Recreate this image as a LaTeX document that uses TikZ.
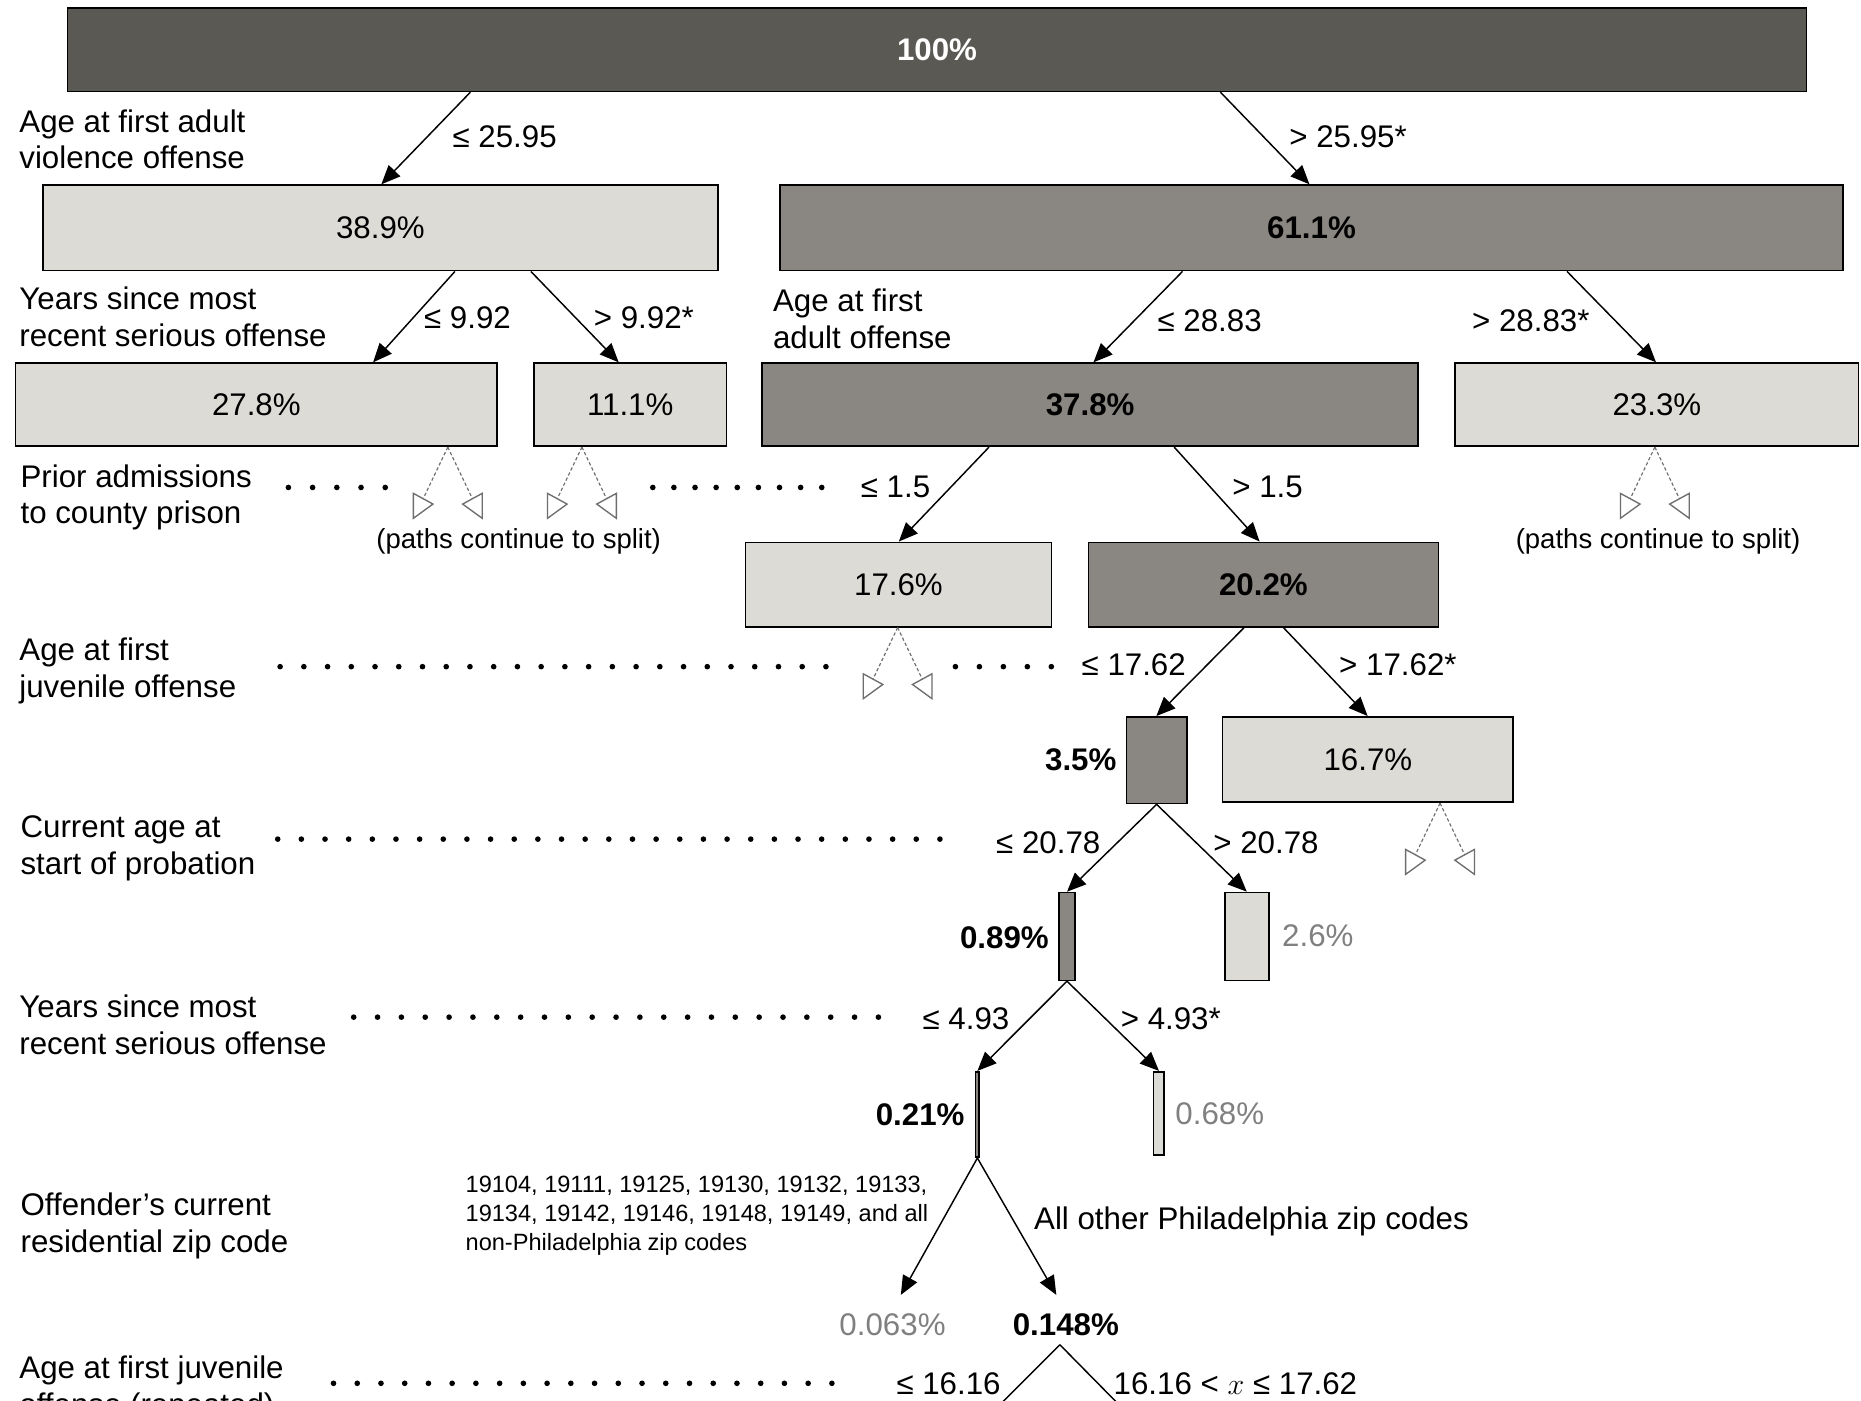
\documentclass[tikz,border=0pt]{standalone}
\usepackage{fontspec}
\setmainfont{Liberation Sans}
\usetikzlibrary{arrows.meta,calc,fit}
\definecolor{darkbox}{RGB}{90,89,84}
\definecolor{midbox}{RGB}{138,135,130}
\definecolor{lightbox}{RGB}{221,219,214}
\definecolor{graytext}{RGB}{128,128,128}
\definecolor{splitgray}{RGB}{110,110,110}
\newcommand\splitpairR[1]{%
  \draw[splitline] (#1) -- ($(#1)+(-20.75,43.5)$);
  \draw[splittri] ($(#1)+(-29,39)$) -- ($(#1)+(-29,60)$) -- ($(#1)+(-12.5,48)$) -- cycle;
  \draw[splitline] (#1) -- ($(#1)+(20.75,43.5)$);
  \draw[splittri] ($(#1)+(29,39)$) -- ($(#1)+(29,60)$) -- ($(#1)+(12.5,48)$) -- cycle;
}
\newcommand\dotrowR[4]{%
  \draw[dotline, dash pattern=on 0pt off #4] (#2,#1) -- ($(#3,#1)+(2,0)$);
}
\begin{document}
\begin{tikzpicture}[x=0.02cm,y=-0.02cm,
  fbase/.style={font=\fontsize{15}{17.6}\selectfont},
  fbold/.style={font=\fontsize{15}{17.6}\selectfont\bfseries},
  box/.style={draw=black, line width=0.8pt, inner sep=0pt},
  lbox/.style={box, fill=lightbox},
  mbox/.style={box, fill=midbox},
  dbox/.style={box, fill=darkbox},
  ltxt/.style={fbase, inner sep=0pt},
  mtxt/.style={fbold, inner sep=0pt},
  dtxt/.style={fbold, text=white, inner sep=0pt},
  lab/.style={fbase, align=left, anchor=west, inner sep=0pt},
  elab/.style={fbase, anchor=west, inner sep=0pt},
  side/.style={fbase, inner sep=0pt},
  arr/.style={line width=0.7pt, -{Triangle[length=0.32cm,width=0.27cm]}},
  plain/.style={line width=0.7pt},
  splitline/.style={draw=splitgray, line width=0.55pt, dash pattern=on 1.6pt off 1.1pt},
  splittri/.style={draw=splitgray, line width=0.65pt, line join=miter},
  dotline/.style={line width=2.7pt, line cap=round},
  note/.style={font=\fontsize{13.2}{15}\selectfont, inner sep=0pt}
]
\useasboundingbox (0,0) rectangle (1568,1180);
\fill[white] (0,0) rectangle (1568,1180);

% boxes
\node[dbox, fit={(57,7) (1522,77)}, label={[dtxt]center:100\%}] (top) {};
\node[lbox, fit={(36,156) (605,228)}, label={[ltxt]center:38.9\%}] (b389) {};
\node[mbox, fit={(657,156) (1553,228)}, label={[mtxt]center:61.1\%}] (b611) {};
\node[lbox, fit={(13,306) (419,376)}, label={[ltxt]center:27.8\%}] (b278) {};
\node[lbox, fit={(450,306) (612,376)}, label={[ltxt]center:11.1\%}] (b111) {};
\node[mbox, fit={(642,306) (1195,376)}, label={[mtxt]center:37.8\%}] (b378) {};
\node[lbox, fit={(1226,306) (1566,376)}, label={[ltxt]center:23.3\%}] (b233) {};
\node[lbox, fit={(628,457) (886,528)}, label={[ltxt]center:17.6\%}] (b176) {};
\node[mbox, fit={(917,457) (1212,528)}, label={[mtxt]center:20.2\%}] (b202) {};
\node[mbox, fit={(949,604) (1000,677)}] (b35) {};
\node[lbox, fit={(1030,604) (1275,676)}, label={[ltxt]center:16.7\%}] (b167) {};
\node[mbox, fit={(892,752) (906,826)}] (b089) {};
\node[lbox, fit={(1032,752) (1069,826)}] (b26) {};
\node[mbox, fit={(822,903) (825,975)}] (b021) {};
\node[lbox, fit={(972,903) (981,973)}] (b068) {};

% side labels of narrow boxes
\node[side, anchor=east, fbold] (t35) at (941,640) {3.5\%};
\node[side, anchor=east, fbold] (t089) at (884,790) {0.89\%};
\node[side, anchor=west, text=graytext] (t26) at (1080,788) {2.6\%};
\node[side, anchor=east, fbold] (t021) at (813,939) {0.21\%};
\node[side, anchor=west, text=graytext] (t068) at (990,938) {0.68\%};
\node[side, text=graytext] (n0063) at (752,1116) {0.063\%};
\node[side, fbold] (n0148) at (898,1116) {0.148\%};

% row labels
\node[lab] (r1) at (16,117.5) {Age at first adult\\violence offense};
\node[lab] (r2) at (16,267) {Years since most\\recent serious offense};
\node[lab] (r3) at (651,268.5) {Age at first\\adult offense};
\node[lab] (r4) at (17,419) {Prior admissions\\to county prison};
\node[lab] (r5) at (16,565.5) {Age at first\\juvenile offense};
\node[lab] (r6) at (17,714.5) {Current age at\\start of probation};
\node[lab] (r7) at (16,863.5) {Years since most\\recent serious offense};
\node[lab] (r8) at (17,1033) {Offender's current\\residential zip code};
\node[lab] (r9) at (16,1170) {Age at first juvenile\\offense (repeated)};

% main arrows
\draw[arr] ($(top.south west)+(340,0)$) -- ($(b389.north west)+(286,0)$);
\draw[arr] ($(top.south west)+(972,0)$) -- ($(b611.north west)+(447,0)$);
\draw[arr] ($(b389.south west)+(348,0)$) -- ($(b278.north west)+(302,0)$);
\draw[arr] ($(b389.south west)+(412,0)$) -- ($(b111.north west)+(72,0)$);
\draw[arr] ($(b611.south west)+(340,0)$) -- ($(b378.north west)+(280,0)$);
\draw[arr] ($(b611.south west)+(664,0)$) -- ($(b233.north west)+(170,0)$);
\draw[arr] ($(b378.south west)+(192,0)$) -- ($(b176.north west)+(130,0)$);
\draw[arr] ($(b378.south west)+(348,0)$) -- ($(b202.north west)+(145,0)$);
\draw[arr] ($(b202.south west)+(132,0)$) -- ($(b35.north west)+(26,0)$);
\draw[arr] ($(b202.south west)+(165,0)$) -- ($(b167.north west)+(123,0)$);
\draw[arr] (b35.south) -- (b089.north);
\draw[arr] (b35.south) -- (b26.north);
\draw[arr] (b089.south) -- (b021.north);
\draw[arr] (b089.south) -- (b068.north);
\draw[arr] (b021.south) -- ($(n0063.center)+(7,-25)$);
\draw[arr] (b021.south) -- ($(n0148.center)+(-8,-25)$);
\coordinate (c1) at (826,1200);
\coordinate (c2) at (959,1200);
\draw[plain] ($(n0148.center)+(-5,17)$) -- (c1);
\draw[plain] ($(n0148.center)+(-5,17)$) -- (c2);

% edge labels
\node[elab] (e1) at (381,115) {≤ 25.95};
\node[elab] (e2) at (1086,115) {> 25.95*};
\node[elab] (e3) at (357,268) {≤ 9.92};
\node[elab] (e4) at (500,268) {> 9.92*};
\node[elab] (e5) at (975,270) {≤ 28.83};
\node[elab] (e6) at (1240,270) {> 28.83*};
\node[elab] (e7) at (725,410) {≤ 1.5};
\node[elab] (e8) at (1038,410) {> 1.5};
\node[elab] (e9) at (911,560) {≤ 17.62};
\node[elab] (e10) at (1128,560) {> 17.62*};
\node[elab] (e11) at (839,710) {≤ 20.78};
\node[elab] (e12) at (1022,710) {> 20.78};
\node[elab] (e13) at (777,858) {≤ 4.93};
\node[elab] (e14) at (944,858) {> 4.93*};
\node[elab] (e15) at (755,1166) {≤ 16.16};
\node[elab] (e16) at (938,1166) {16.16 < $x$ ≤ 17.62};

% zip code labels
\node[anchor=west, align=left, inner sep=0pt, font=\fontsize{11.3}{13.9}\selectfont] (zip1) at (392,1024)
  {19104, 19111, 19125, 19130, 19132, 19133,\\19134, 19142, 19146, 19148, 19149, and all\\non-Philadelphia zip codes};
\node[elab] (zip2) at (871,1029) {All other Philadelphia zip codes};

% continuing splits
\coordinate (s1) at ($(b278.south west)+(365,0)$);
\coordinate (s2) at ($(b111.south west)+(41,0)$);
\coordinate (s3) at ($(b233.south west)+(169,0)$);
\coordinate (s4) at ($(b176.south west)+(129,0)$);
\coordinate (s5) at ($(b167.south west)+(184,0)$);
\splitpairR{s1}
\splitpairR{s2}
\splitpairR{s3}
\splitpairR{s4}
\splitpairR{s5}
\node[note] (p1) at (437,456) {(paths continue to split)};
\node[note] (p2) at (1397,456) {(paths continue to split)};

% dotted leaders
\dotrowR{410.7}{243}{325}{0.408cm}
\dotrowR{410.7}{550}{692}{0.356cm}
\dotrowR{561.7}{236}{696}{0.4cm}
\dotrowR{561.7}{805}{886}{0.404cm}
\dotrowR{707}{234}{792}{0.3986cm}
\dotrowR{857}{298}{740}{0.402cm}
\dotrowR{1165.5}{281}{701}{0.4cm}
\end{tikzpicture}
\end{document}
